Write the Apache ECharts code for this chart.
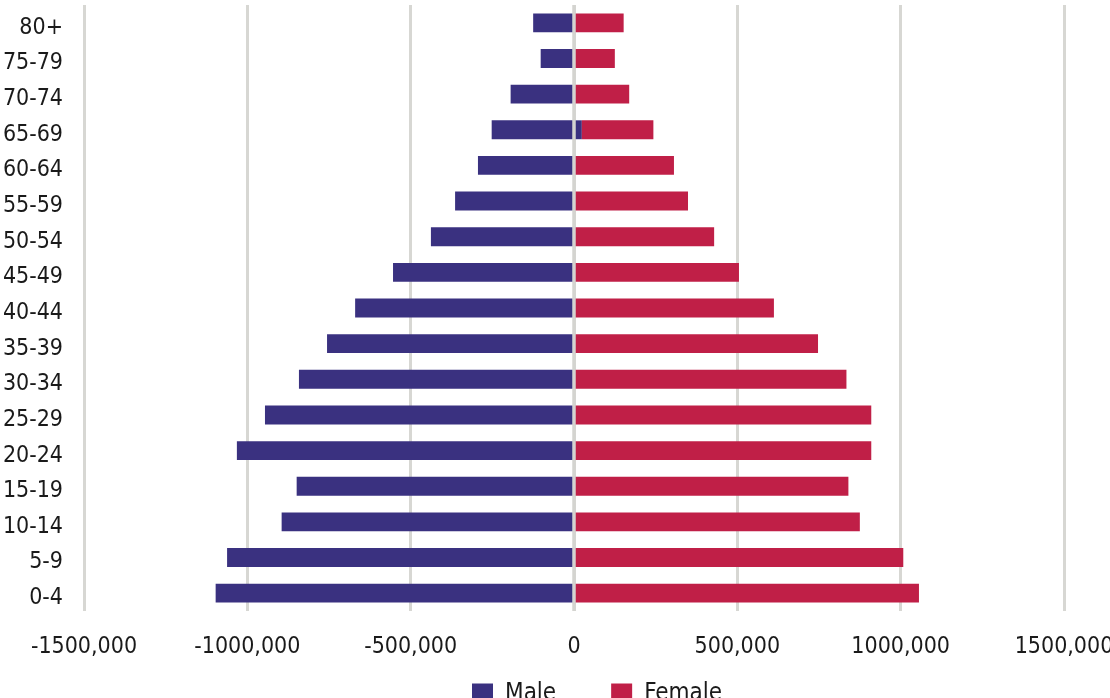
<!DOCTYPE html>
<html>
<head>
<meta charset="utf-8">
<script src="https://cdn.jsdelivr.net/npm/echarts@6/dist/echarts.min.js"></script>
<style>
html,body{margin:0;padding:0;background:#fff;}
#chart{width:1110px;height:698px;}
</style>
</head>
<body>
<div id="chart"></div>
<script>
const ageGroups = ['0-4','5-9','10-14','15-19','20-24','25-29','30-34','35-39','40-44','45-49','50-54','55-59','60-64','65-69','70-74','75-79','80+'];
const male = [-1097000,-1062000,-895000,-849000,-1032000,-946000,-842000,-756000,-670000,-554000,-438000,-364000,-294000,-252000,-194000,-102000,-125000];
const maleOverflow = [0,0,0,0,0,0,0,0,0,0,0,0,0,24000,0,0,0];
const female = [1056000,1008000,875000,840000,910000,910000,834000,747000,612000,505000,429000,349000,306000,219000,169000,125000,152000];

const FONT = '"Liberation Sans Narrow","DejaVu Sans Condensed","Roboto",sans-serif';
const MALE_C = '#3a3180';
const FEMALE_C = '#c01f47';

function fmt(v){
  if (v === 0) return '0';
  const a = Math.abs(v);
  return (v < 0 ? '-' : '') + Math.floor(a/1000) + ',' + String(a%1000).padStart(3,'0');
}

const chart = echarts.init(document.getElementById('chart'));
chart.setOption({
  animation:false,
  grid:{left:84,right:46,top:5,bottom:87,containLabel:false,outerBoundsMode:'none'},
  legend:{
    data:['Male','Female'],
    left:467, top:677,
    itemWidth:21, itemHeight:21, itemGap:55,
    icon:'rect',
    textStyle:{fontFamily:FONT,fontSize:24,color:'#1a1a1a',padding:[0,0,0,7]},
    selectedMode:false
  },
  xAxis:{
    type:'value', min:-1500000, max:1500000, interval:500000,
    axisLine:{show:false}, axisTick:{show:false},
    axisLabel:{formatter:fmt, fontFamily:FONT, fontSize:23, color:'#1a1a1a', margin:25},
    splitLine:{show:true, lineStyle:{color:'#d7d7d3', width:3}}
  },
  yAxis:{
    type:'category', data:ageGroups,
    axisLine:{show:false}, axisTick:{show:false},
    axisLabel:{interval:0, fontFamily:FONT, fontSize:23, color:'#1a1a1a', margin:21,
      verticalAlign:'top', lineHeight:10}
  },
  series:[
    {name:'Male', type:'bar', stack:'pop', data:male, barWidth:'53%',
     itemStyle:{color:MALE_C},
     markLine:{silent:true, symbol:'none', label:{show:false},
       lineStyle:{color:'#d4d4d0', width:3.5, type:'solid'},
       data:[{xAxis:0}]}},
    {name:'MaleOver', type:'bar', stack:'pop', data:maleOverflow, barWidth:'53%',
     itemStyle:{color:MALE_C}},
    {name:'Female', type:'bar', stack:'pop', data:female, barWidth:'53%',
     itemStyle:{color:FEMALE_C}}
  ]
});
</script>
</body>
</html>
